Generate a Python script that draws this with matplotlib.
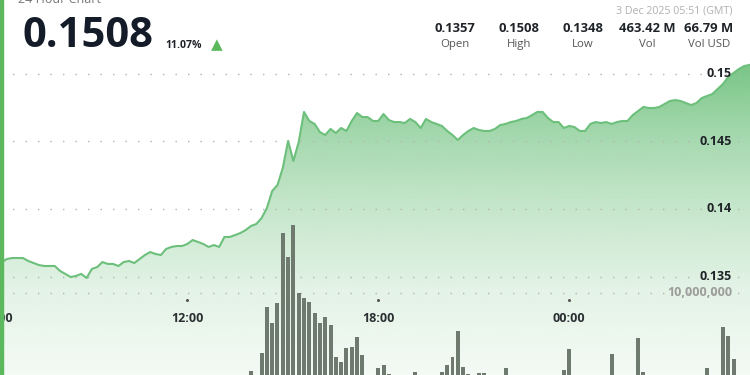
import numpy as np
import pandas as pd
import matplotlib
matplotlib.use("Agg")
import matplotlib.pyplot as plt
import matplotlib.dates as mdates
from matplotlib.patches import Rectangle

W, H = 750, 375

# 10-minute samples, 2 Dec 05:50 -> 3 Dec 05:50 (GMT)
times = pd.date_range("2025-12-02 05:50", periods=145, freq="10min")
prices = [
    0.13593, 0.13593, 0.13607, 0.13630, 0.13637, 0.13637, 0.13637, 0.13615, 0.13600, 0.13585,
    0.13578, 0.13578, 0.13578, 0.13541, 0.13519, 0.13496, 0.13504, 0.13519, 0.13489, 0.13556,
    0.13570, 0.13607, 0.13593, 0.13593, 0.13578, 0.13607, 0.13615, 0.13600, 0.13630, 0.13659,
    0.13681, 0.13667, 0.13659, 0.13704, 0.13719, 0.13726, 0.13726, 0.13741, 0.13770, 0.13756,
    0.13741, 0.13719, 0.13733, 0.13719, 0.13793, 0.13793, 0.13807, 0.13822, 0.13844, 0.13874,
    0.13889, 0.13933, 0.14007, 0.14133, 0.14178, 0.14304, 0.14504, 0.14356, 0.14496, 0.14719,
    0.14652, 0.14630, 0.14570, 0.14548, 0.14593, 0.14563, 0.14600, 0.14578, 0.14652, 0.14711,
    0.14681, 0.14681, 0.14652, 0.14652, 0.14704, 0.14659, 0.14644, 0.14644, 0.14637, 0.14667,
    0.14644, 0.14600, 0.14667, 0.14644, 0.14630, 0.14615, 0.14578, 0.14548, 0.14511, 0.14548,
    0.14578, 0.14600, 0.14585, 0.14578, 0.14578, 0.14593, 0.14622, 0.14630, 0.14644, 0.14652,
    0.14667, 0.14674, 0.14696, 0.14719, 0.14719, 0.14674, 0.14644, 0.14644, 0.14600, 0.14615,
    0.14607, 0.14578, 0.14578, 0.14630, 0.14644, 0.14637, 0.14644, 0.14630, 0.14644, 0.14652,
    0.14652, 0.14696, 0.14726, 0.14756, 0.14748, 0.14748, 0.14756, 0.14778, 0.14800, 0.14807,
    0.14800, 0.14785, 0.14770, 0.14785, 0.14822, 0.14837, 0.14852, 0.14889, 0.14926, 0.14978,
    0.15007, 0.15037, 0.15059, 0.15067, 0.15080,
]

# volume bars that rise into view (index into times, millions)
vol_k = [49, 51, 52, 53, 54, 55, 56, 57, 58, 59, 60, 61, 62, 63, 64, 65, 66, 67, 68, 69, 70,
         73, 74, 75, 80, 85, 86, 87, 88, 89, 90, 92, 93, 97, 108, 109, 117, 122, 123, 135,
         138, 139, 140]
vol_m = [3.86, 5.28, 8.90, 7.64, 9.21, 14.72, 12.83, 15.35, 10.0, 9.61, 9.29, 8.43, 7.64, 8.11,
         7.48, 4.96, 4.57, 5.67, 5.75, 6.54, 5.12, 4.1, 4.3, 3.6, 3.78, 3.78, 4.33, 4.96, 7.01,
         4.17, 3.6, 3.7, 3.7, 4.09, 3.94, 5.59, 5.2, 6.46, 3.78, 4.09, 7.32, 6.61, 4.8]

price_ticks = [0.135, 0.14, 0.145, 0.15]
price_labels = ["0.135", "0.14", "0.145", "0.15"]
time_ticks = ["2025-12-02 06:00", "2025-12-02 12:00", "2025-12-02 18:00", "2025-12-03 00:00"]
time_labels = ["06:00", "12:00", "18:00", "00:00"]
stat_values = ["0.1357", "0.1508", "0.1348", "463.42 M", "66.79 M"]
stat_names = ["Open", "High", "Low", "Vol", "Vol USD"]
stat_x = [455, 519, 583, 647, 709]

plt.rcParams["font.family"] = ["Open Sans", "DejaVu Sans"]

fig = plt.figure(figsize=(7.5, 3.75), dpi=100)
fig.patch.set_facecolor("white")

ax = fig.add_axes([0, 0, 1, 1])
vax = ax.twinx()
ax.set_zorder(1)
vax.set_zorder(2)
vax.patch.set_visible(False)

t = mdates.date2num(times.to_pydatetime())
x0 = mdates.date2num(pd.Timestamp("2025-12-02 06:06:45").to_pydatetime())
x1 = mdates.date2num(pd.Timestamp("2025-12-03 05:41:00").to_pydatetime())
ylo, yhi = 0.127704, 0.155481

# gradient fill under the price line
poly = ax.fill_between(t, prices, ylo, color="none", lw=0)
py = np.linspace(0, H, 200)
alpha = np.interp(py, [0, 70, 130, 200, 290, 375], [0.88, 0.8, 0.57, 0.37, 0.17, 0.07])
grad = np.zeros((len(py), 1, 4))
grad[..., 0] = 0x5c / 255
grad[..., 1] = 0xb9 / 255
grad[..., 2] = 0x6c / 255
grad[..., 3] = alpha[:, None]
img = ax.imshow(grad, extent=[x0, x1, ylo, yhi], aspect="auto", origin="upper",
                interpolation="bilinear", zorder=1)
img.set_clip_path(poly.get_paths()[0], ax.transData)
ax.plot(t, prices, color="#6cc07b", lw=1.5, zorder=3, solid_joinstyle="round")

for p in price_ticks:
    ax.axhline(p, color="#b4b4b4", lw=1.0, ls=(0, (1, 8)), zorder=2)
ax.set_xlim(x0, x1)
ax.set_ylim(ylo, yhi)
ax.axis("off")

# volume bars
vt = t[vol_k]
vax.bar(vt, vol_m, width=0.75 * (10 / 1440), color="#6d7a6d", zorder=2)
vax.axhline(10, color="#b4b4b4", lw=1.0, ls=(0, (1, 8)), zorder=1)
vax.set_ylim(3.543, 33.07)
vax.set_xlim(x0, x1)
vax.axis("off")

# axis labels
for p, lab in zip(price_ticks, price_labels):
    ax.text(732 / W, p, lab, transform=ax.get_yaxis_transform(), ha="right", va="center",
            fontsize=9, fontweight="bold", color="#1f2328", zorder=5)
vax.text(732 / W, 10, "10,000,000", transform=vax.get_yaxis_transform(), ha="right",
         va="center", fontsize=9, fontweight="bold", color="#9c9c9c", zorder=5)
for tt, lab in zip(time_ticks, time_labels):
    xn = mdates.date2num(pd.Timestamp(tt).to_pydatetime())
    ax.text(xn, 1 - 319 / H, lab, transform=ax.get_xaxis_transform(), ha="center",
            va="center", fontsize=9, fontweight="bold", color="#2b2f33", zorder=5)
    ax.plot([xn], [1 - 300 / H], transform=ax.get_xaxis_transform(), marker="o",
            ms=1.2, color="#555555", zorder=5)

# header
fig.text(18 / W, 1 - 3 / H, "24 Hour Chart", fontsize=9, color="#777777", va="baseline")
fig.text(22 / W, 1 - 47 / H, "0.1508", fontsize=30, fontweight="bold", color="#141b29",
         va="baseline")
fig.text(165 / W, 1 - 48 / H, "11.07%", fontsize=7.6, fontweight="bold", color="#1f2328",
         va="baseline")
fig.text(217 / W, 1 - 44.5 / H, "\u25b2", fontsize=11, color="#5cb85c", ha="center",
         va="center", family="DejaVu Sans")
fig.text(733 / W, 1 - 11 / H, "3 Dec 2025 05:51 (GMT)", fontsize=7.7, color="#b0b0b0",
         ha="right", va="center")
for sx, sv, sn in zip(stat_x, stat_values, stat_names):
    fig.text(sx / W, 1 - 28 / H, sv, fontsize=9.4, fontweight="bold", color="#1f2328",
             ha="center", va="center")
    fig.text(sx / W, 1 - 44.5 / H, sn, fontsize=8.2, color="#555555", ha="center", va="center")

fig.patches.append(Rectangle((0, 0), 3 / W, 1, transform=fig.transFigure,
                             color="#5cb85c", zorder=10))

fig.savefig("out.png", dpi=100)
